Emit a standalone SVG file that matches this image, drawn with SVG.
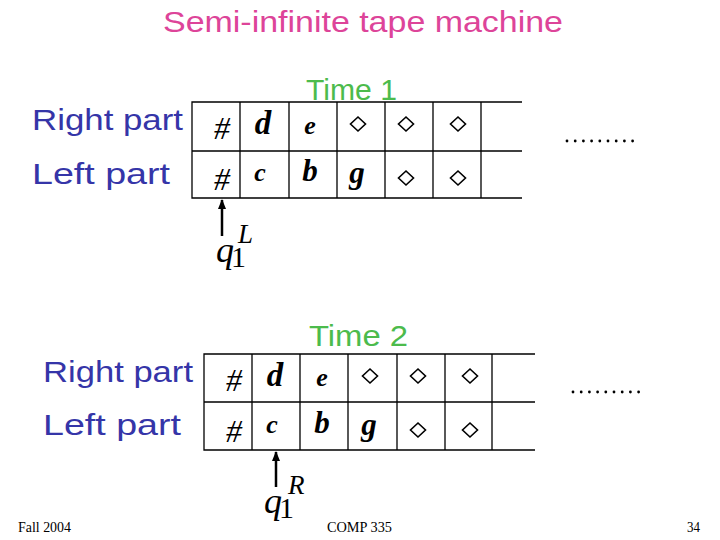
<svg xmlns="http://www.w3.org/2000/svg" width="720" height="540" viewBox="0 0 720 540">
<defs>
<style>
.title{font-family:"Comic Sans MS","Liberation Sans",sans-serif;font-size:30px;fill:#dd4499}
.lbl{font-family:"Comic Sans MS","Liberation Sans",sans-serif;font-size:29px;fill:#3535a8}
.time{font-family:"Comic Sans MS","Liberation Sans",sans-serif;font-size:29px;fill:#4cbb4c}
.foot{font-family:"Liberation Serif",serif;font-size:14px;fill:#000}
.sym{font-family:"Liberation Serif",serif;font-style:italic;fill:#000}
.up{font-style:normal}
.grid{fill:none;stroke:#000;stroke-width:1.3}
.dia{fill:none;stroke:#000;stroke-width:1.6}
.arr{stroke:#000;stroke-width:2.5}
.dot{fill:#000}
</style>
<path id="dm" class="dia" d="M0,-7 L7.5,0 L0,7 L-7.5,0 Z"/>
<g id="row1c">
<text class="sym" x="222" y="139" font-size="32" text-anchor="middle">#</text>
<text class="sym" x="263" y="134" font-size="33" font-weight="bold" text-anchor="middle">d</text>
<text class="sym" x="310" y="134" font-size="26" font-weight="bold" text-anchor="middle">e</text>
<use href="#dm" x="358" y="124"/>
<use href="#dm" x="406" y="124"/>
<use href="#dm" x="458" y="124"/>
</g>
<g id="row2c">
<text class="sym" x="222" y="190" font-size="32" text-anchor="middle">#</text>
<text class="sym" x="260" y="181" font-size="26" font-weight="bold" text-anchor="middle">c</text>
<text class="sym" x="310" y="181" font-size="31" font-weight="bold" text-anchor="middle">b</text>
<text class="sym" x="357" y="183" font-size="31" font-weight="bold" text-anchor="middle">g</text>
<use href="#dm" x="406" y="178"/>
<use href="#dm" x="458" y="178"/>
</g>
<g id="dots">
<circle class="dot" cx="0" cy="0" r="1.4"/><circle class="dot" cx="8.2" cy="0" r="1.4"/><circle class="dot" cx="16.4" cy="0" r="1.4"/><circle class="dot" cx="24.6" cy="0" r="1.4"/><circle class="dot" cx="32.8" cy="0" r="1.4"/><circle class="dot" cx="41" cy="0" r="1.4"/><circle class="dot" cx="49.2" cy="0" r="1.4"/><circle class="dot" cx="57.4" cy="0" r="1.4"/><circle class="dot" cx="65.6" cy="0" r="1.4"/>
</g>
<marker id="ah" markerWidth="10" markerHeight="10" refX="9" refY="5" orient="auto" markerUnits="userSpaceOnUse"><path d="M0,1 L10,5 L0,9 Z" fill="#000"/></marker>
</defs>

<text class="title" x="363" y="32" text-anchor="middle" textLength="400" lengthAdjust="spacingAndGlyphs">Semi-infinite tape machine</text>

<g id="time1">
<text class="time" x="306" y="100" textLength="91" lengthAdjust="spacingAndGlyphs">Time 1</text>
<text class="lbl" x="32" y="130" textLength="151" lengthAdjust="spacingAndGlyphs">Right part</text>
<text class="lbl" x="32" y="184" textLength="138" lengthAdjust="spacingAndGlyphs">Left part</text>
<g id="tape1">
<path class="grid" d="M522,102 H192 V198 H522 M192,151 H522 M240,102 V198 M289,102 V198 M337,102 V198 M385,102 V198 M433,102 V198 M481,102 V198"/>
<use href="#row1c"/>
<use href="#row2c"/>
</g>
<use href="#dots" x="567" y="141"/>
<g id="head1">
<text class="sym" x="216" y="262" font-size="36">q<tspan class="up" font-size="30" dx="-3" dy="5">1</tspan><tspan font-size="27" dx="-8" dy="-24">L</tspan></text>
</g>
</g>

<g id="time2">
<text class="time" x="309" y="346" textLength="99" lengthAdjust="spacingAndGlyphs">Time 2</text>
<text class="lbl" x="43" y="382" textLength="150" lengthAdjust="spacingAndGlyphs">Right part</text>
<text class="lbl" x="43" y="435" textLength="138" lengthAdjust="spacingAndGlyphs">Left part</text>
<g id="tape2">
<path class="grid" d="M535,354 H204 V450 H535 M204,402 H535 M252,354 V450 M300,354 V450 M348,354 V450 M397,354 V450 M445,354 V450 M492,354 V450"/>
<use href="#row1c" x="12" y="252"/>
<use href="#row2c" x="12" y="252"/>
</g>
<use href="#dots" x="573" y="392"/>
<g id="head2">
<text class="sym" x="264" y="513" font-size="36">q<tspan class="up" font-size="30" dx="-3" dy="5">1</tspan><tspan font-size="27" dx="-6" dy="-24">R</tspan></text>
</g>
</g>

<g id="connectors">
<line class="arr" x1="222" y1="236" x2="222" y2="200" marker-end="url(#ah)"/>
<line class="arr" x1="276" y1="487" x2="276" y2="452" marker-end="url(#ah)"/>
</g>

<text class="foot" x="18" y="532" textLength="53" lengthAdjust="spacingAndGlyphs">Fall 2004</text>
<text class="foot" x="327" y="532" textLength="65" lengthAdjust="spacingAndGlyphs">COMP 335</text>
<text class="foot" x="687" y="532" textLength="13" lengthAdjust="spacingAndGlyphs">34</text>
</svg>
